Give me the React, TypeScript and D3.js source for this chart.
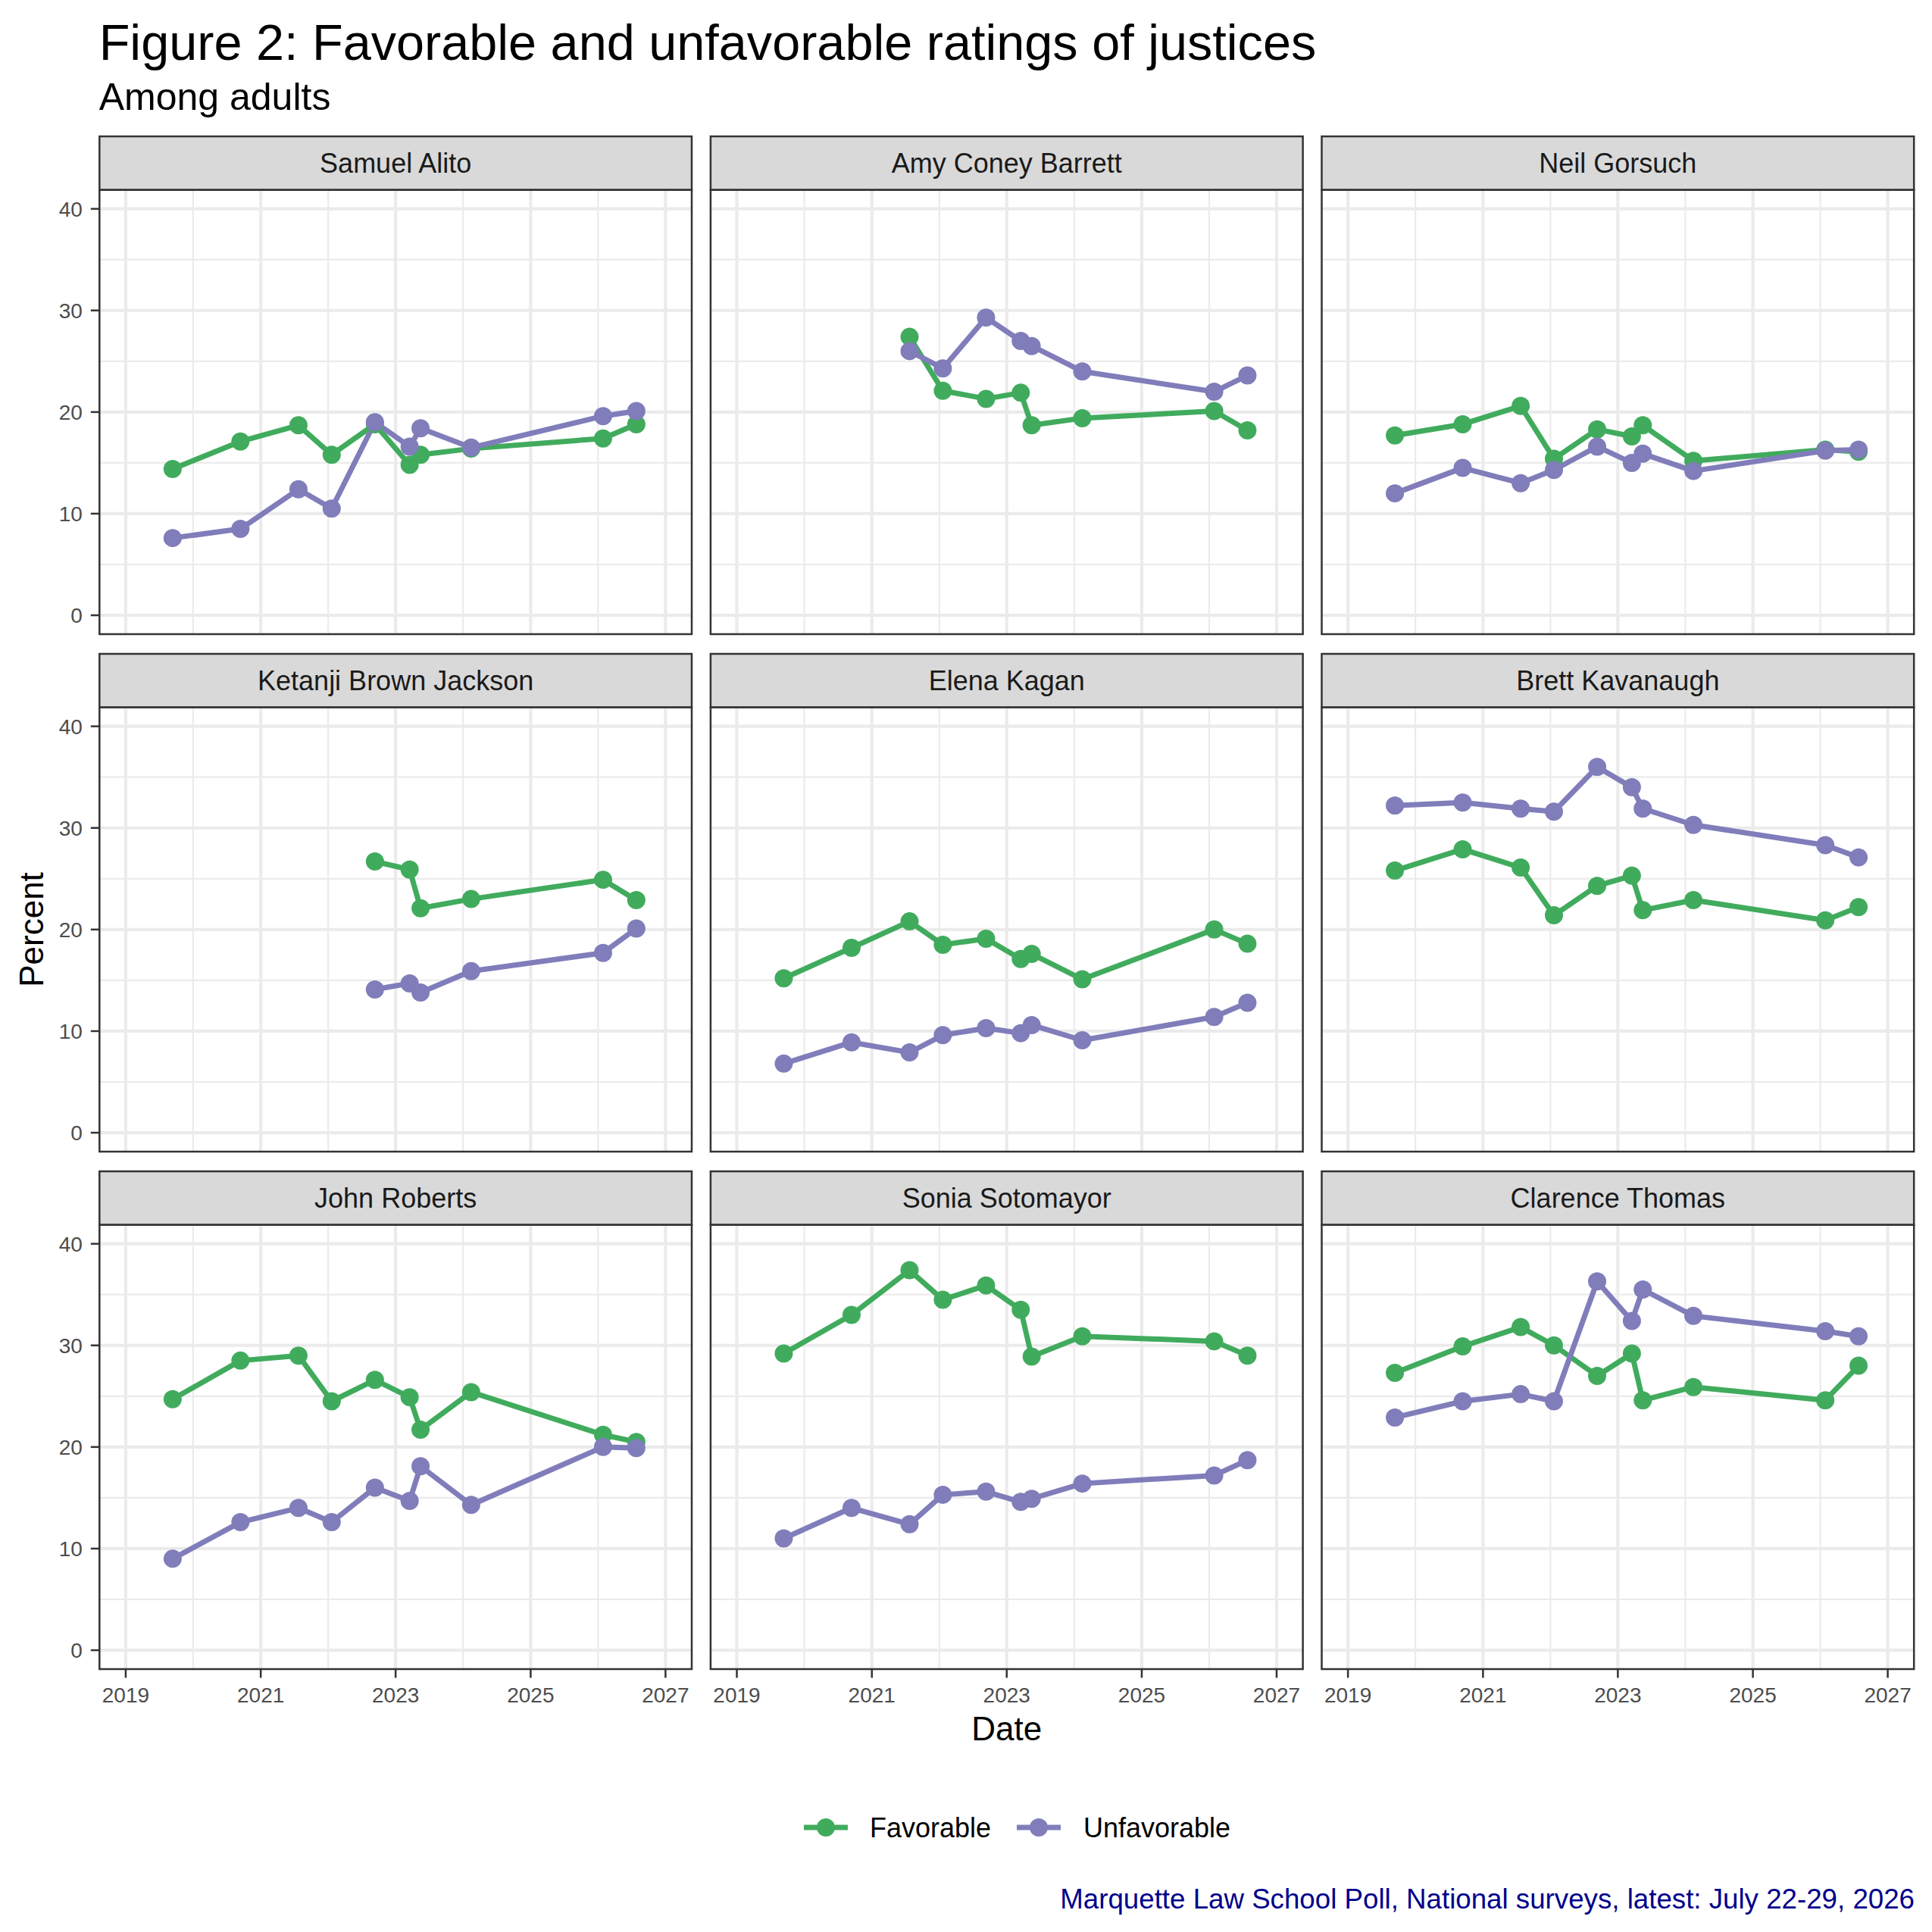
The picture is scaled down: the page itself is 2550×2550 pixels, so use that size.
import React from "react";
import * as d3 from "d3";

// survey field dates (one per national wave)
const surveyDates = [
  "2019-09-12",
  "2020-09-13",
  "2021-07-24",
  "2022-01-20",
  "2022-09-11",
  "2023-03-18",
  "2023-05-16",
  "2024-02-14",
  "2026-01-28",
  "2026-07-27",
];

const justices = [
  "Samuel Alito",
  "Amy Coney Barrett",
  "Neil Gorsuch",
  "Ketanji Brown Jackson",
  "Elena Kagan",
  "Brett Kavanaugh",
  "John Roberts",
  "Sonia Sotomayor",
  "Clarence Thomas",
];

// percent favorable, same order as justices
const favorable: (number | null)[][] = [
  [14.4, 17.1, 18.7, 15.8, 18.8, 14.8, 15.8, 16.4, 17.4, 18.8],
  [null, null, 27.4, 22.1, 21.3, 21.9, 18.7, 19.4, 20.1, 18.2],
  [17.7, 18.8, 20.6, 15.4, 18.3, 17.6, 18.7, 15.2, 16.3, 16.1],
  [null, null, null, null, 26.7, 25.9, 22.1, 23.0, 24.9, 22.9],
  [15.2, 18.2, 20.8, 18.5, 19.1, 17.1, 17.6, 15.1, 20.0, 18.6],
  [25.8, 27.9, 26.1, 21.4, 24.3, 25.3, 21.9, 22.9, 20.9, 22.2],
  [24.7, 28.5, 29.0, 24.5, 26.6, 24.9, 21.7, 25.4, 21.2, 20.5],
  [29.2, 33.0, 37.4, 34.5, 35.9, 33.5, 28.9, 30.9, 30.4, 29.0],
  [27.3, 29.9, 31.8, 30.0, 27.0, 29.2, 24.6, 25.9, 24.6, 28.0],
];

// percent unfavorable
const unfavorable: (number | null)[][] = [
  [7.6, 8.5, 12.4, 10.5, 19.0, 16.6, 18.4, 16.5, 19.6, 20.1],
  [null, null, 26.0, 24.3, 29.3, 27.0, 26.5, 24.0, 22.0, 23.6],
  [12.0, 14.5, 13.0, 14.3, 16.6, 15.0, 15.9, 14.2, 16.2, 16.3],
  [null, null, null, null, 14.1, 14.7, 13.8, 15.9, 17.7, 20.1],
  [6.8, 8.9, 7.9, 9.6, 10.3, 9.8, 10.6, 9.1, 11.4, 12.8],
  [32.2, 32.5, 31.9, 31.6, 36.0, 34.0, 31.9, 30.3, 28.3, 27.1],
  [9.0, 12.6, 14.0, 12.6, 16.0, 14.7, 18.1, 14.3, 20.0, 19.9],
  [11.0, 14.0, 12.4, 15.3, 15.6, 14.6, 14.9, 16.4, 17.2, 18.7],
  [22.9, 24.5, 25.2, 24.5, 36.3, 32.4, 35.5, 32.9, 31.4, 30.9],
];

const seriesNames = ["Favorable", "Unfavorable"];
const seriesColors = ["#41AB5D", "#807DBA"];

const yTicks = [0, 10, 20, 30, 40];
const yMinor = [5, 15, 25, 35];
const xTickYears = [2019, 2021, 2023, 2025, 2027];
const xMinorYears = [2020, 2022, 2024, 2026];

const title = "Figure 2: Favorable and unfavorable ratings of justices";
const subtitle = "Among adults";
const caption =
  "Marquette Law School Poll, National surveys, latest: July 22-29, 2026";

const W = 2550;
const H = 2550;
const FONT = "'Liberation Sans', Arial, Helvetica, sans-serif";

const panelX0 = 131.3;
const panelW = 781.7;
const colStep = 806.6;
const plotTop0 = 250.7;
const panelH = 586.3;
const rowStep = 683;
const stripH = 70.7;

const parse = d3.timeParse("%Y-%m-%d");
const dates = surveyDates.map((d) => parse(d)!);

export default function App() {
  const x = d3
    .scaleTime()
    .domain([
      d3.timeDay.offset(new Date(2019, 0, 1), -142),
      d3.timeDay.offset(new Date(2027, 0, 1), 142),
    ])
    .range([0, panelW]);
  const y = d3.scaleLinear().domain([-1.86, 41.86]).range([panelH, 0]);

  const line = d3
    .line<[Date, number | null]>()
    .defined((d) => d[1] != null)
    .x((d) => x(d[0]))
    .y((d) => y(d[1] as number));

  const panels = justices.map((name, i) => {
    const col = i % 3;
    const row = Math.floor(i / 3);
    const px = panelX0 + col * colStep;
    const py = plotTop0 + row * rowStep;
    const series = [favorable[i], unfavorable[i]].map((vals) =>
      vals.map((v, j) => [dates[j], v] as [Date, number | null])
    );
    return (
      <g key={name}>
        {/* strip */}
        <rect
          x={px}
          y={py - stripH}
          width={panelW}
          height={stripH}
          fill="#D9D9D9"
          stroke="#333333"
          strokeWidth={2.5}
        />
        <text
          x={px + panelW / 2}
          y={py - stripH / 2 + 12.6}
          textAnchor="middle"
          fontSize={36}
          fill="#1A1A1A"
        >
          {name}
        </text>
        <g transform={`translate(${px},${py})`}>
          <rect width={panelW} height={panelH} fill="white" />
          {yMinor.map((v) => (
            <line
              key={"ym" + v}
              x1={0}
              x2={panelW}
              y1={y(v)}
              y2={y(v)}
              stroke="#EBEBEB"
              strokeWidth={2.2}
            />
          ))}
          {xMinorYears.map((yr) => (
            <line
              key={"xm" + yr}
              x1={x(new Date(yr, 0, 1))}
              x2={x(new Date(yr, 0, 1))}
              y1={0}
              y2={panelH}
              stroke="#EBEBEB"
              strokeWidth={2.2}
            />
          ))}
          {yTicks.map((v) => (
            <line
              key={"y" + v}
              x1={0}
              x2={panelW}
              y1={y(v)}
              y2={y(v)}
              stroke="#EBEBEB"
              strokeWidth={4.2}
            />
          ))}
          {xTickYears.map((yr) => (
            <line
              key={"x" + yr}
              x1={x(new Date(yr, 0, 1))}
              x2={x(new Date(yr, 0, 1))}
              y1={0}
              y2={panelH}
              stroke="#EBEBEB"
              strokeWidth={4.2}
            />
          ))}
          {series.map((s, k) => (
            <path
              key={"l" + k}
              d={line(s) ?? ""}
              fill="none"
              stroke={seriesColors[k]}
              strokeWidth={7}
              strokeLinejoin="round"
            />
          ))}
          {series.map((s, k) =>
            s
              .filter((d) => d[1] != null)
              .map((d, j) => (
                <circle
                  key={"p" + k + "-" + j}
                  cx={x(d[0])}
                  cy={y(d[1] as number)}
                  r={12}
                  fill={seriesColors[k]}
                />
              ))
          )}
          <rect
            width={panelW}
            height={panelH}
            fill="none"
            stroke="#333333"
            strokeWidth={2.5}
          />
          {/* left axis */}
          {col === 0 &&
            yTicks.map((v) => (
              <g key={"ya" + v}>
                <line
                  x1={-11.5}
                  x2={0}
                  y1={y(v)}
                  y2={y(v)}
                  stroke="#333333"
                  strokeWidth={2.5}
                />
                <text
                  x={-22.5}
                  y={y(v) + 10}
                  textAnchor="end"
                  fontSize={28}
                  fill="#4D4D4D"
                >
                  {v}
                </text>
              </g>
            ))}
          {/* bottom axis */}
          {row === 2 &&
            xTickYears.map((yr) => (
              <g key={"xa" + yr}>
                <line
                  x1={x(new Date(yr, 0, 1))}
                  x2={x(new Date(yr, 0, 1))}
                  y1={panelH}
                  y2={panelH + 11.5}
                  stroke="#333333"
                  strokeWidth={2.5}
                />
                <text
                  x={x(new Date(yr, 0, 1))}
                  y={panelH + 43.7}
                  textAnchor="middle"
                  fontSize={28}
                  fill="#4D4D4D"
                >
                  {yr}
                </text>
              </g>
            ))}
        </g>
      </g>
    );
  });

  const legendX = [1061, 1342];
  const legendTextX = [1148, 1430];
  const legendY = 2412;

  return (
    <svg
      width={W}
      height={H}
      viewBox={`0 0 ${W} ${H}`}
      style={{ position: "absolute", left: 0, top: 0, background: "white" }}
      fontFamily={FONT}
    >
      <rect width={W} height={H} fill="white" />
      <text x={130.7} y={79} fontSize={66.6} fill="black">
        {title}
      </text>
      <text x={130.7} y={145} fontSize={50} fill="black">
        {subtitle}
      </text>
      {panels}
      <text
        x={(panelX0 + panelX0 + 2 * colStep + panelW) / 2}
        y={2296.7}
        textAnchor="middle"
        fontSize={44}
        fill="black"
      >
        Date
      </text>
      <text
        transform={`translate(57,1227) rotate(-90)`}
        textAnchor="middle"
        fontSize={44}
        fill="black"
      >
        Percent
      </text>
      {seriesNames.map((s, k) => (
        <g key={s}>
          <line
            x1={legendX[k]}
            x2={legendX[k] + 58}
            y1={legendY}
            y2={legendY}
            stroke={seriesColors[k]}
            strokeWidth={7}
          />
          <circle cx={legendX[k] + 29} cy={legendY} r={12} fill={seriesColors[k]} />
          <text x={legendTextX[k]} y={legendY + 12.8} fontSize={36} fill="black">
            {s}
          </text>
        </g>
      ))}
      <text x={2527} y={2519} textAnchor="end" fontSize={36.7} fill="#00008B">
        {caption}
      </text>
    </svg>
  );
}
